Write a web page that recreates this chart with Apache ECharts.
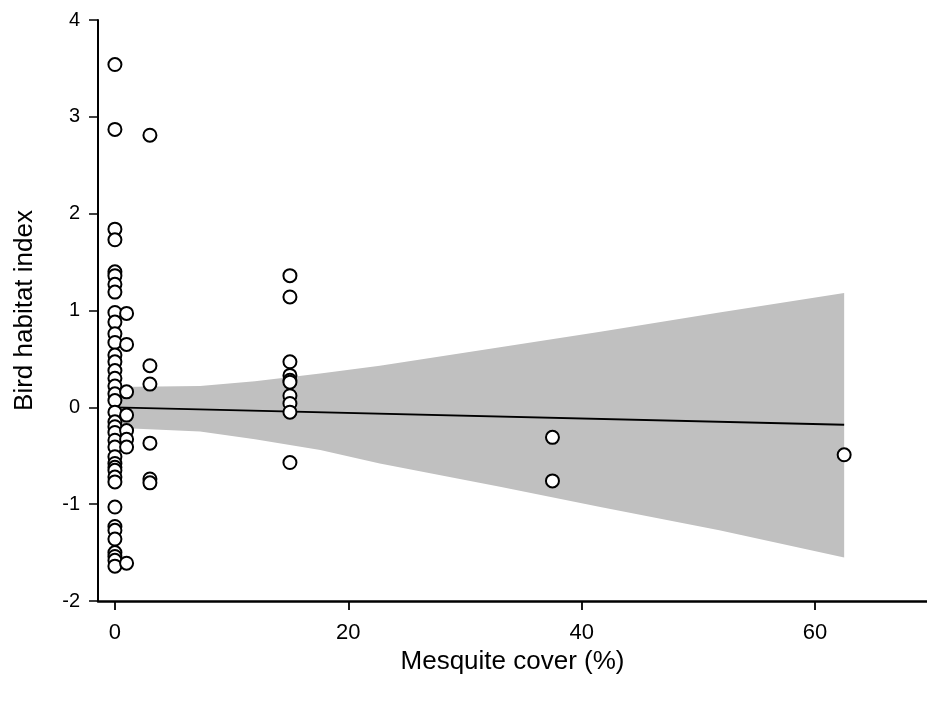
<!DOCTYPE html>
<html>
<head>
<meta charset="utf-8">
<script src="https://cdn.jsdelivr.net/npm/echarts@6/dist/echarts.min.js"></script>
<style>html,body{margin:0;padding:0;background:#fff;}#c{width:927px;height:702px;}</style>
</head>
<body>
<div id="c"></div>
<script>
// ---- data ----
var xTicks = [0, 20, 40, 60];
var yTicks = [-2, -1, 0, 1, 2, 3, 4];

var cover0 = [3.54, 2.87, 1.84, 1.73, 1.40, 1.36, 1.27, 1.19, 0.98, 0.88, 0.76, 0.67, 0.54, 0.47, 0.38, 0.30, 0.22, 0.14, 0.07, -0.05, -0.15, -0.20, -0.26, -0.34, -0.41, -0.51, -0.58, -0.62, -0.65, -0.72, -0.77, -1.03, -1.23, -1.27, -1.36, -1.50, -1.54, -1.58, -1.64];
var cover1 = [0.97, 0.65, 0.16, -0.08, -0.24, -0.33, -0.41, -1.61];
var cover3 = [2.81, 0.43, 0.24, -0.37, -0.74, -0.78];
var cover15 = [1.36, 1.14, 0.47, 0.33, 0.28, 0.26, 0.12, 0.04, -0.05, -0.57];
var cover37 = [-0.31, -0.76];
var cover62 = [-0.49];

var bandX     = [0, 7.3, 12, 17.6, 22.7, 33, 41.6, 51.8, 62.5];
var bandUpper = [0.21, 0.22, 0.27, 0.35, 0.43, 0.62, 0.78, 0.98, 1.18];
var bandLower = [-0.21, -0.25, -0.33, -0.44, -0.58, -0.82, -1.03, -1.27, -1.55];

var fitX = [0, 62.5];
var fitY = [0.0, -0.18];

// ---- build ----
function pts(x, arr) { return arr.map(function (v) { return [x, v]; }); }
var scatterData = [].concat(pts(0, cover0), pts(1, cover1), pts(3, cover3), pts(15, cover15), pts(37.5, cover37), pts(62.5, cover62));
var bandData = bandX.map(function (x, i) { return [x, bandLower[i], bandUpper[i]]; });
var fitData = fitX.map(function (x, i) { return [x, fitY[i]]; });

var FONT = "'Liberation Sans', Arial, sans-serif";
var chart = echarts.init(document.getElementById('c'), null, { renderer: 'canvas' });
chart.setOption({
  animation: false,
  backgroundColor: '#fff',
  grid: { left: 98, right: 0, top: 20, bottom: 101, containLabel: false },
  xAxis: {
    type: 'value', min: -1.45, max: 69.6,
    name: 'Mesquite cover (%)', nameLocation: 'middle', nameGap: 46,
    nameTextStyle: { fontFamily: FONT, fontSize: 26, color: '#000' },
    axisLine: { show: true, onZero: false, lineStyle: { color: '#000', width: 2.5 } },
    axisTick: { show: true, length: 9, customValues: xTicks, lineStyle: { color: '#000', width: 1.8 } },
    axisLabel: { show: true, customValues: xTicks, margin: 21, fontFamily: FONT, fontSize: 22, color: '#000' },
    splitLine: { show: false }
  },
  yAxis: {
    type: 'value', min: yTicks[0], max: yTicks[yTicks.length - 1], interval: 1,
    name: 'Bird habitat index', nameLocation: 'middle', nameGap: 60, nameRotate: 90,
    nameTextStyle: { fontFamily: FONT, fontSize: 26, color: '#000' },
    axisLine: { show: true, onZero: false, lineStyle: { color: '#000', width: 2 } },
    axisTick: { show: true, length: 9, lineStyle: { color: '#000', width: 1.5 } },
    axisLabel: { show: true, margin: 18, fontFamily: FONT, fontSize: 20, color: '#000' },
    splitLine: { show: false }
  },
  series: [
    { type: 'custom', data: bandData, silent: true, z: 1,
      encode: { x: 0, y: [1, 2] },
      renderItem: function (params, api) {
        if (params.dataIndex !== 0) return null;
        var top = [], bot = [];
        for (var i = 0; i < bandData.length; i++) {
          top.push(api.coord([bandData[i][0], bandData[i][2]]));
          bot.push(api.coord([bandData[i][0], bandData[i][1]]));
        }
        return { type: 'polygon', shape: { points: top.concat(bot.reverse()) },
                 style: { fill: '#c0c0c0', stroke: 'none' } };
      } },
    { type: 'line', data: fitData, symbol: 'none', lineStyle: { color: '#000', width: 1.8 }, z: 2 },
    { type: 'scatter', data: scatterData, symbol: 'circle', symbolSize: 13,
      itemStyle: { color: '#fff', borderColor: '#000', borderWidth: 2, opacity: 1 }, z: 3 }
  ]
});
</script>
</body>
</html>
